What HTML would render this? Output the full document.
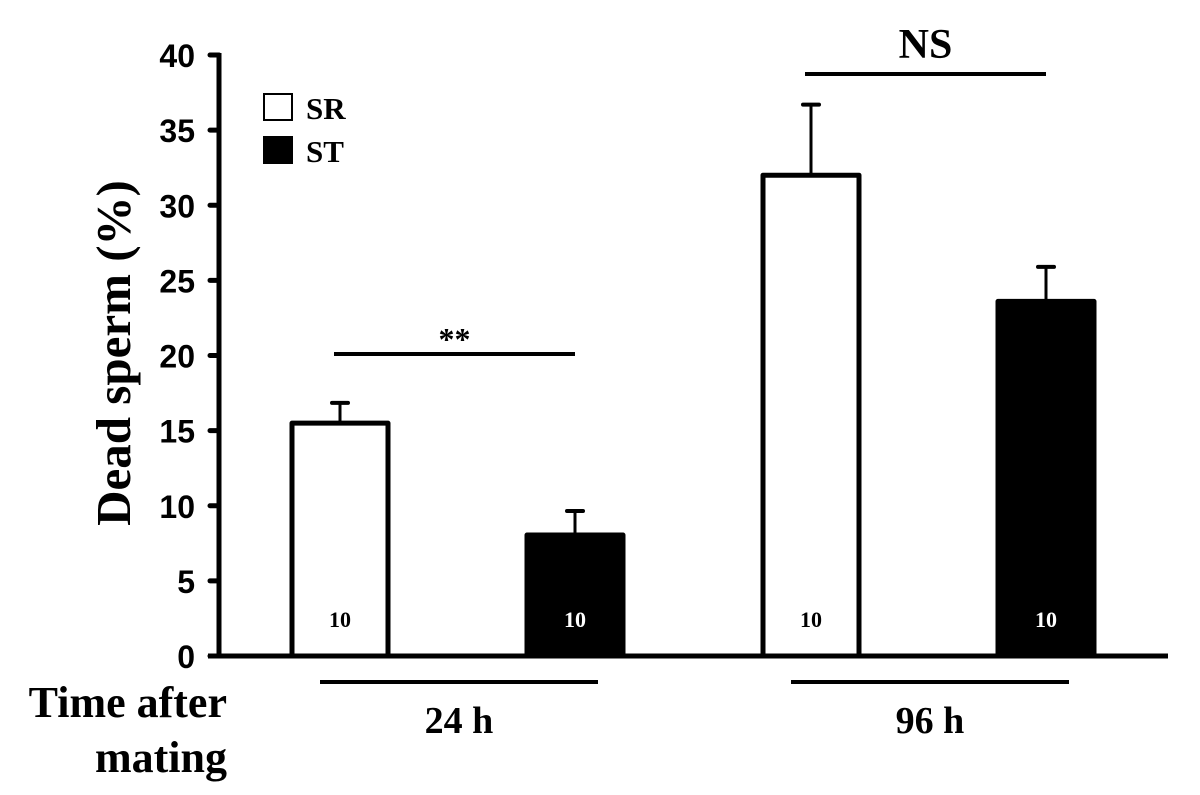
<!DOCTYPE html>
<html><head><meta charset="utf-8"><style>
html,body{margin:0;padding:0;background:#fff;}
svg{display:block;}
.ax{font-family:"Liberation Sans",Arial,sans-serif;font-weight:bold;font-size:32px;}
.sf{font-family:"Liberation Serif","Times New Roman",serif;font-weight:bold;}
</style></head><body>
<svg id="chart" width="1200" height="795" viewBox="0 0 1200 795"></svg>
<script>
const categories = ["24 h", "96 h"];
const seriesNames = ["SR", "ST"];
const srValues = [15.5, 32.0];
const stValues = [8.05, 23.6];
const srErrors = [16.85, 36.7];
const stErrors = [9.65, 25.9];
const sampleSizes = [[10, 10], [10, 10]];
const yTicks = [0, 5, 10, 15, 20, 25, 30, 35, 40];
const sigLabels = ["**", "NS"];

const NS = "http://www.w3.org/2000/svg";
const svg = document.getElementById("chart");
const y0 = 656, y40 = 55, axisX = 219;
function yScale(v){ return y0 - (v / 40) * (y0 - y40); }
const groupLeft = [292, 763];
const barW = 96, barGap = 235;
function xBar(g, s){ return groupLeft[g] + s * barGap; }
function el(tag, attrs, text){
  const e = document.createElementNS(NS, tag);
  for (const k in attrs) e.setAttribute(k, attrs[k]);
  if (text !== undefined) e.textContent = text;
  svg.appendChild(e);
  return e;
}

const vals = [srValues, stValues], errs = [srErrors, stErrors];
for (let g = 0; g < categories.length; g++) {
  for (let s = 0; s < 2; s++) {
    const x = xBar(g, s), top = yScale(vals[s][g]), et = yScale(errs[s][g]);
    const cx = x + barW / 2;
    const eb = el("line", {x1: cx, x2: cx, y1: top, y2: et, stroke: "#000", "stroke-width": 3});
    
    
    const cap = el("line", {x1: cx - 8, x2: cx + 8, y1: et, y2: et, stroke: "#000", "stroke-width": 4, "stroke-linecap": "round"});
    
    
    const r = el("rect", {x: x, y: top, width: barW, height: y0 - top, fill: s ? "#000" : "#fff", stroke: "#000", "stroke-width": 5, "stroke-linejoin": "round"});
    
    
    const n = el("text", {x: cx, y: 627, "text-anchor": "middle", "font-size": 22, fill: s ? "#fff" : "#000", class: "sf"}, sampleSizes[g][s]);
    
    
  }
  const ux1 = xBar(g, 0) + 28, ux2 = xBar(g, 1) + barW - 25;
  const ul = el("line", {x1: ux1, x2: ux2, y1: 682, y2: 682, stroke: "#000", "stroke-width": 4});
  
  
  const ct = el("text", {x: (ux1 + ux2) / 2, y: 733, "text-anchor": "middle", "font-size": 38, class: "sf"}, categories[g]);
  
  
  const sy = g === 0 ? 354 : 74;
  const sx1 = xBar(g, 0) + 42, sx2 = xBar(g, 1) + 48;
  const sl = el("line", {x1: sx1, x2: sx2, y1: sy, y2: sy, stroke: "#000", "stroke-width": 4});
  
  
  const st = el("text", {x: (sx1 + sx2) / 2, y: g === 0 ? sy - 4 : sy - 16, "text-anchor": "middle", "font-size": g === 0 ? 32 : 42, class: "sf"}, sigLabels[g]);
  
  
}

const ya = el("line", {x1: axisX, x2: axisX, y1: y40 - 2, y2: y0, stroke: "#000", "stroke-width": 5});


const xa = el("line", {x1: 208, x2: 1168, y1: y0, y2: y0, stroke: "#000", "stroke-width": 5});


for (const t of yTicks) {
  const yy = yScale(t);
  const tk = el("line", {x1: 210, x2: axisX, y1: yy, y2: yy, stroke: "#000", "stroke-width": 5, "stroke-linecap": "round"});
  
  
  const tl = el("text", {x: 195, y: yy + 12, "text-anchor": "end", class: "ax"}, t);
  
  
}
const yt = el("text", {x: 0, y: 0, transform: "translate(130,353) rotate(-90)", "text-anchor": "middle", "font-size": 49, class: "sf"}, "Dead sperm (%)");


const xt1 = el("text", {x: 227, y: 717, "text-anchor": "end", "font-size": 44, class: "sf"}, "Time after");


const xt2 = el("text", {x: 227, y: 772, "text-anchor": "end", "font-size": 44, class: "sf"}, "mating");



for (let s = 0; s < 2; s++) {
  const ly = 94 + s * 43;
  const lb = el("rect", {x: 264, y: ly, width: 28, height: 26, fill: s ? "#000" : "#fff", stroke: "#000", "stroke-width": 2});
  
  
  const lt = el("text", {x: 306, y: ly + 25, "font-size": 31, class: "sf"}, seriesNames[s]);
  
  
}
</script>
</body></html>
